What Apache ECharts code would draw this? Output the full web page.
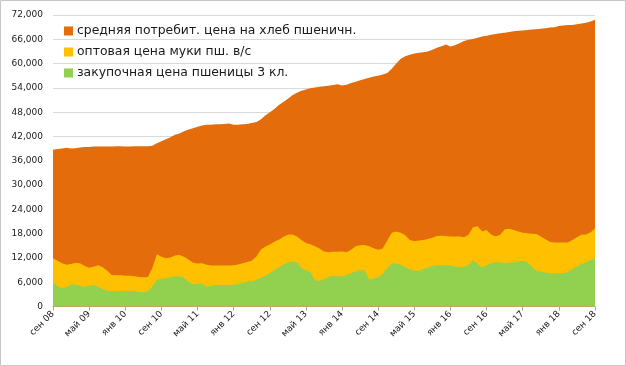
<!DOCTYPE html>
<html>
<head>
<meta charset="utf-8">
<script src="https://cdn.jsdelivr.net/npm/echarts@6/dist/echarts.min.js"></script>
<style>
html,body{margin:0;padding:0;background:#fff;}
#c{width:626px;height:366px;}
</style>
</head>
<body>
<div id="c"></div>
<script>
// Month names and start of the series (Sep 2008 .. Sep 2018)
var monthNames = ['янв','фев','мар','апр','май','июн','июл','авг','сен','окт','ноя','дек'];
var startYear = 2008, startMonth = 8, monthCount = 121;

var seriesNames = [
  'средняя потребит. цена на хлеб пшеничн.',
  'оптовая цена муки пш. в/с',
  'закупочная цена пшеницы 3 кл.'
];

// средняя потребит. цена на хлеб пшеничн. (руб/т)
var breadPrice = [
38700,38900,39000,39200,39000,39100,39300,39400,39400,39500,
39500,39500,39500,39500,39600,39600,39500,39500,39600,39600,
39600,39600,39700,40300,40800,41300,41800,42400,42700,43300,
43700,44000,44400,44700,44900,44900,45000,45000,45100,45200,
44900,44900,45000,45100,45300,45600,46200,47200,48000,48800,
49800,50500,51300,52200,52800,53300,53600,53900,54100,54300,
54400,54500,54700,54900,54600,54800,55200,55500,55900,56200,
56500,56800,57000,57300,57700,58700,60000,61200,61800,62200,
62500,62700,62800,63000,63400,63900,64300,64700,64200,64500,
65000,65600,65900,66100,66400,66700,66900,67100,67300,67500,
67600,67800,68000,68100,68200,68300,68400,68500,68600,68700,
68900,69000,69300,69400,69500,69500,69700,69900,70100,70400,
70800];

// оптовая цена муки пш. в/с (руб/т)
var flourPrice = [
11900,11300,10700,10300,10500,10800,10700,10000,9600,9800,
10200,9700,8800,7800,7700,7700,7600,7600,7500,7300,
7200,7300,9500,12900,12300,11900,12100,12600,12700,12300,
11600,10800,10600,10700,10300,10100,10100,10100,10100,10100,
10200,10400,10700,11000,11300,12300,14000,14800,15300,16000,
16500,17200,17700,17800,17300,16400,15700,15400,14900,14300,
13600,13400,13500,13500,13600,13400,14000,14900,15100,15200,
14900,14400,14000,14300,16300,18200,18500,18200,17600,16400,
16100,16300,16400,16700,17000,17400,17500,17400,17300,17300,
17300,17100,17700,19600,19800,18500,18900,17800,17300,17700,
19000,19200,18900,18500,18200,18100,18000,17900,17300,16600,
16000,15800,15800,15800,15800,16400,17100,17700,17800,18300,
19300];

// закупочная цена пшеницы 3 кл. (руб/т)
var wheatPrice = [
6000,5000,4500,4800,5500,5400,5100,4900,5100,5300,
4900,4300,3800,3800,3800,3900,3900,3900,3800,3600,
3500,3700,5000,6600,6800,7000,7200,7500,7400,7100,
6100,5500,5600,5700,4900,5000,5300,5300,5300,5300,
5400,5500,5900,6100,6200,6600,7100,7600,8200,9000,
9700,10300,10900,11100,10900,9600,8900,8500,6500,6300,
6700,7300,7600,7500,7400,7700,8300,8700,8900,9000,
6600,7000,7300,8000,9500,10600,10600,10300,9700,9200,
8900,8800,9200,9700,10000,10200,10200,10200,10100,9900,
9700,9800,10300,11400,10500,9700,10200,10700,10900,10900,
10700,10800,10900,11100,11300,10900,9900,8800,8600,8400,
8200,8200,8200,8200,8500,9300,9900,10500,10900,11400,
12000];

var colors = ['#E46C0A', '#FFC000', '#92D050'];

var categories = [];
for (var i = 0; i < monthCount; i++) {
  var m = (startMonth + i) % 12;
  var y = startYear + Math.floor((startMonth + i) / 12);
  categories.push(monthNames[m] + ' ' + String(y % 100).padStart(2, '0'));
}

var dataSets = [breadPrice, flourPrice, wheatPrice];
var series = dataSets.map(function (d, k) {
  return {
    name: seriesNames[k],
    type: 'line',
    data: d,
    showSymbol: false,
    symbol: 'none',
    lineStyle: { width: 0 },
    areaStyle: { color: colors[k], opacity: 1 },
    itemStyle: { color: colors[k] },
    z: 2 + k
  };
});

var chart = echarts.init(document.getElementById('c'), null, { renderer: 'canvas' });
chart.setOption({
  animation: false,
  textStyle: { fontFamily: 'DejaVu Sans' },
  graphic: [{
    type: 'rect',
    shape: { x: 0.5, y: 0.5, width: 625, height: 365 },
    style: { fill: 'none', stroke: '#C6C6C6', lineWidth: 1 },
    z: 100
  }],
  grid: { left: 53, right: 31, top: 15, bottom: 59.5, containLabel: false },
  legend: {
    orient: 'vertical',
    left: 59,
    top: 20,
    itemWidth: 9,
    itemHeight: 9,
    itemGap: 9,
    icon: 'rect',
    textStyle: { fontSize: 12.4, color: '#1a1a1a', fontFamily: 'DejaVu Sans', padding: [0, 0, 0, -1] },
    data: seriesNames
  },
  xAxis: {
    type: 'category',
    data: categories,
    boundaryGap: false,
    axisLine: { lineStyle: { color: '#A6A6A6', width: 1 } },
    axisTick: { interval: 7, length: 4, lineStyle: { color: '#A6A6A6' } },
    axisLabel: { interval: 7, rotate: 45, fontSize: 9, color: '#1a1a1a', margin: 6, fontFamily: 'DejaVu Sans' }
  },
  yAxis: {
    type: 'value',
    min: 0,
    max: 72000,
    interval: 6000,
    axisLine: { show: false },
    axisTick: { show: false },
    axisLabel: { fontSize: 9, color: '#1a1a1a', margin: 10, fontFamily: 'DejaVu Sans' },
    splitLine: { lineStyle: { color: '#D9D9D9', width: 1 } }
  },
  series: series
});
</script>
</body>
</html>
